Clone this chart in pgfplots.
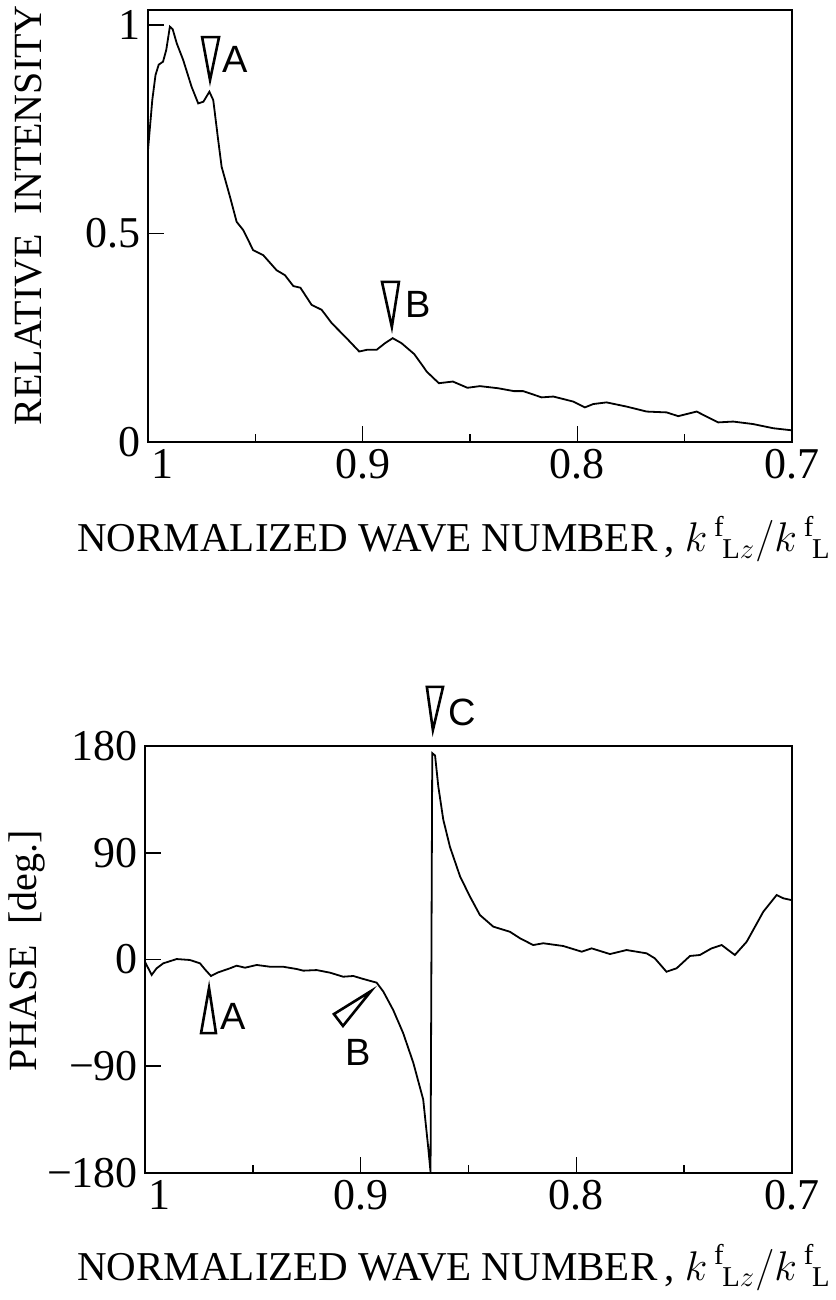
\documentclass[border=0pt]{standalone}
\usepackage{fontspec}
\setmainfont{Liberation Serif}
\setsansfont{Liberation Sans}
\usepackage{pgfplots}
\usepackage{pgfplotstable}
\pgfplotsset{compat=1.18}

% relative intensity vs normalized wave number
\pgfplotstableread{
k I
1.0000 0.70
0.9990 0.76
0.9980 0.82
0.9965 0.88
0.9950 0.905
0.9930 0.912
0.9915 0.94
0.9898 0.996
0.9885 0.99
0.9866 0.956
0.9836 0.916
0.9797 0.852
0.9766 0.812
0.9742 0.816
0.9714 0.840
0.9696 0.820
0.9673 0.724
0.9657 0.660
0.9618 0.588
0.9587 0.528
0.9556 0.508
0.9510 0.460
0.9463 0.448
0.9401 0.412
0.9362 0.400
0.9323 0.374
0.9290 0.370
0.9238 0.329
0.9191 0.317
0.9144 0.285
0.9075 0.249
0.9016 0.217
0.8981 0.221
0.8935 0.221
0.8896 0.237
0.8860 0.249
0.8819 0.237
0.8760 0.211
0.8718 0.181
0.8702 0.169
0.8645 0.141
0.8580 0.145
0.8512 0.130
0.8454 0.134
0.8370 0.129
0.8295 0.122
0.8252 0.122
0.8166 0.107
0.8112 0.109
0.8019 0.097
0.7965 0.083
0.7926 0.091
0.7864 0.095
0.7771 0.085
0.7677 0.073
0.7584 0.071
0.7530 0.062
0.7491 0.067
0.7444 0.073
0.7398 0.061
0.7344 0.047
0.7274 0.049
0.7181 0.043
0.7087 0.033
0.7000 0.028
}\intensity

% phase in degrees
\pgfplotstableread{
k P
1.0000 -2
0.9969 -13
0.9946 -7.4
0.9915 -3.2
0.9853 0.4
0.9792 -0.4
0.9745 -3.2
0.9722 -8.3
0.9694 -13.9
0.9660 -10.8
0.9606 -7.4
0.9575 -5.2
0.9536 -6.9
0.9482 -4.6
0.9420 -6.1
0.9359 -6.1
0.9297 -8.0
0.9266 -9.4
0.9204 -8.9
0.9142 -11.1
0.9081 -14.5
0.9034 -13.9
0.8988 -16.4
0.8926 -19.5
0.8895 -27
0.8849 -42.6
0.8803 -62
0.8756 -87
0.8710 -118
0.8687 -158
0.8676 -179
0.8668 174
0.8655 172
0.8640 146
0.8617 118
0.8586 95
0.8539 70
0.8493 53
0.8447 37.5
0.8385 27.7
0.8308 23.4
0.8261 17.9
0.8200 12.2
0.8153 13.7
0.8061 11.4
0.7975 6.6
0.7929 9.4
0.7844 4.6
0.7767 8.0
0.7674 5.2
0.7636 1.0
0.7582 -10.3
0.7535 -7.4
0.7473 3.0
0.7427 3.8
0.7373 9.4
0.7326 12.2
0.7265 3.8
0.7210 15
0.7133 40.3
0.7071 54.4
0.7040 51.6
0.7000 50
}\phase

\pgfplotsset{
  wave/.style={
    scale only axis,
    x dir=reverse, xmin=0.7, xmax=1,
    xtick={1,0.9,0.8,0.7},
    xticklabels={\hspace*{15pt}1,0.9,0.8,0.7},
    minor xtick={0.95,0.85,0.75},
    xtick pos=left, ytick pos=left,
    tick align=inside,
    major tick length=8pt, minor tick length=4pt,
    tick style={black, line width=0.8pt},
    axis line style={line width=1pt},
    ticklabel style={font=\fontsize{22}{22}\selectfont},
    label style={font=\fontsize{20.5}{20.5}\selectfont},
    ylabel style={font=\fontsize{20}{20}\selectfont},
    xlabel={NORMALIZED WAVE NUMBER\,, $k\,{}^{\mathrm{f}}\mkern-1mu{}_{\mathrm{L}z}/k\,{}^{\mathrm{f}}\mkern-1mu{}_{\mathrm{L}}$},
    clip=false,
  },
}
\tikzset{
  tri/.style={line width=1.3pt, fill=white},
  tag/.style={font=\sffamily\fontsize{19}{19}\selectfont},
}

\begin{document}
\begin{tikzpicture}
\useasboundingbox (0,0) rectangle (417.5pt,-650pt);

\begin{axis}[wave,
  at={(74pt,-221pt)}, anchor=south west,
  width=322pt, height=216pt,
  ymin=0, ymax=1.036,
  ytick={0,0.5,1}, yticklabels={0,0.5,1},
  ylabel={RELATIVE\ \ INTENSITY},
  xlabel style={at={(axis description cs:1.0606,-0.2546)}, anchor=base east, inner sep=0pt},
  ylabel style={at={(axis description cs:-0.186,0.525)}, anchor=center},
]
\addplot[black, line width=0.9pt] table[x=k, y=I] {\intensity};
\draw[tri] (axis cs:0.9748,0.971) -- (axis cs:0.9711,0.868) -- (axis cs:0.9669,0.971) -- cycle;
\node[tag] at (axis cs:0.9595,0.918) {A};
\draw[tri] (axis cs:0.8910,0.384) -- (axis cs:0.8864,0.276) -- (axis cs:0.8831,0.384) -- cycle;
\node[tag] at (axis cs:0.8742,0.329) {B};
\end{axis}

\begin{axis}[wave,
  at={(72.5pt,-586.5pt)}, anchor=south west,
  width=323.5pt, height=213.5pt,
  ymin=-180, ymax=180,
  ytick={-180,-90,0,90,180}, yticklabels={−180,−90,0,90,180},
  ylabel={PHASE\ \ [deg.]},
  xlabel style={at={(axis description cs:1.0603,-0.2506)}, anchor=base east, inner sep=0pt},
  ylabel style={at={(axis description cs:-0.182,0.52)}, anchor=center},
]
\addplot[black, line width=0.9pt] table[x=k, y=P] {\phase};
\draw[tri] (axis cs:0.8693,229.8) -- (axis cs:0.8665,193.5) -- (axis cs:0.8618,229.8) -- cycle;
\node[tag] at (axis cs:0.8530,208.7) {C};
\draw[tri] (axis cs:0.9740,-62) -- (axis cs:0.9703,-24) -- (axis cs:0.9671,-62) -- cycle;
\node[tag] at (axis cs:0.9592,-47.6) {A};
\draw[tri] (axis cs:0.9124,-46) -- (axis cs:0.8952,-26.6) -- (axis cs:0.9082,-56) -- cycle;
\node[tag] at (axis cs:0.9012,-78) {B};
\end{axis}
\end{tikzpicture}
\end{document}
